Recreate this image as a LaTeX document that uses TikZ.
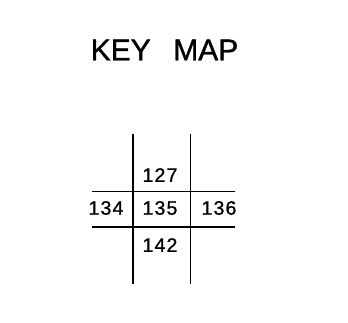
\documentclass[tikz,border=0pt]{standalone}
\usepackage{fontspec}
\setmainfont{Liberation Sans}
\newfontfamily\titlefont[FakeBold=1.2]{Liberation Sans}
\newfontfamily\numfont[FakeBold=1.0,LetterSpace=6]{Liberation Sans}
\begin{document}
\begin{tikzpicture}[x=1pt,y=-1pt,
  gridline/.style={line width=1.5pt,black},
  num/.style={font=\numfont\fontsize{19.5}{19.5}\selectfont,inner sep=0pt,anchor=center}]
\useasboundingbox (0,0) rectangle (348,323);
\node[anchor=center,inner sep=0pt,font=\titlefont\fontsize{30}{30}\selectfont] (title) at (164.5,50) {KEY\hspace{0.75em}MAP};
\coordinate (v1t) at (133,134); \coordinate (v1b) at (133,284);
\coordinate (v2t) at (190.5,134); \coordinate (v2b) at (190.5,284);
\coordinate (h1l) at (92,191.5); \coordinate (h1r) at (235,191.5);
\coordinate (h2l) at (92,227); \coordinate (h2r) at (235,227);
\draw[gridline] (v1t) -- (v1b);
\draw[gridline] (v2t) -- (v2b);
\draw[gridline] (h1l) -- (h1r);
\draw[gridline] (h2l) -- (h2r);
\node[num] (n127) at (160,175) {127};
\node[num] (n134) at (106,208) {134};
\node[num] (n135) at (160,208) {135};
\node[num] (n136) at (219,208) {136};
\node[num] (n142) at (160,245) {142};
\end{tikzpicture}
\end{document}
